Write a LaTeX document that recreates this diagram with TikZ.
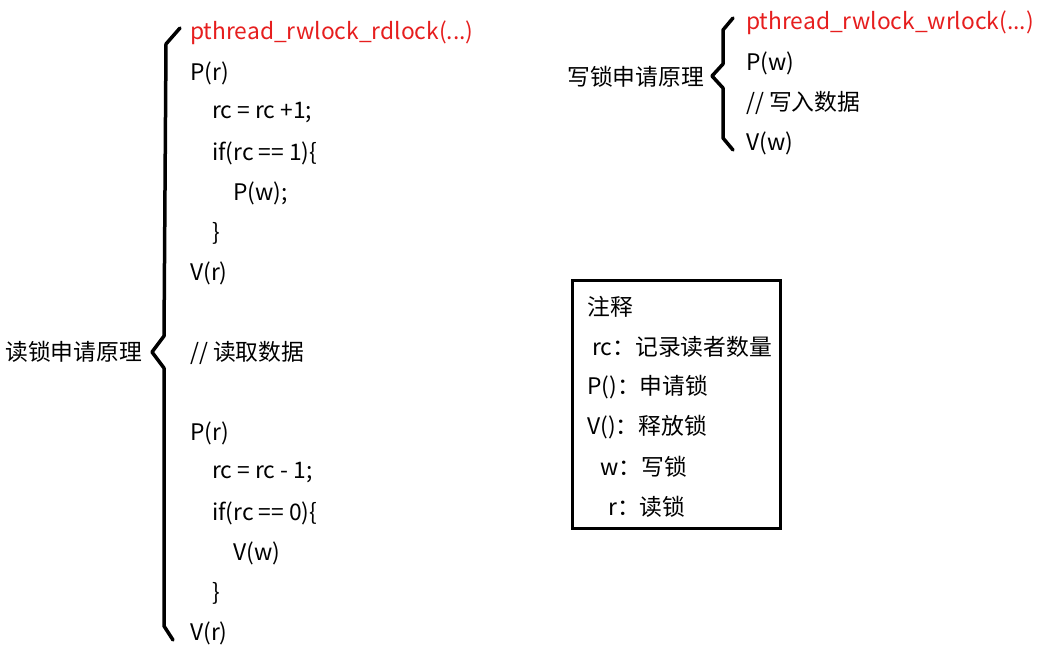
\documentclass[tikz,border=0pt]{standalone}
\usepackage{fontspec}
\setmainfont{Noto Sans CJK SC}
\begin{document}
\begin{tikzpicture}[x=1pt,y=-1pt,
  t/.style={anchor=west,inner sep=0pt,font=\fontsize{22.8}{26}\selectfont},
  red/.style={text={rgb,255:red,230;green,30;blue,30}},
  br/.style={line width=3.5pt,line join=round,line cap=round}]
\useasboundingbox (0,0) rectangle (1047,651);
% left brace
\draw[br] (180,28) -- (166,44) -- (164,336) -- (152,352) -- (164,368) -- (164,626) -- (173,640);
% right brace
\draw[br] (733,18) -- (723,30) -- (723,64) -- (712,76) -- (723,88) -- (723,138) -- (733,150);
\node[t] (lab1) at (5,352) {读锁申请原理};
\node[t] (lab2) at (567,77) {写锁申请原理};
\node[t,red] (l1) at (190,33) {pthread\_rwlock\_rdlock(...)};
\node[t] (l2) at (190,73) {P(r)};
\node[t] (l3) at (212,113) {rc = rc +1;};
\node[t] (l4) at (212,153) {if(rc == 1)\{};
\node[t] (l5) at (233,193) {P(w);};
\node[t] (l6) at (212,233) {\}};
\node[t] (l7) at (190,273) {V(r)};
\node[t] (l8) at (190,353) {// 读取数据};
\node[t] (l9) at (190,433) {P(r)};
\node[t] (l10) at (212,473) {rc = rc - 1;};
\node[t] (l11) at (212,513) {if(rc == 0)\{};
\node[t] (l12) at (233,553) {V(w)};
\node[t] (l13) at (212,593) {\}};
\node[t] (l14) at (190,633) {V(r)};
\node[t,red] (w1) at (746,23) {pthread\_rwlock\_wrlock(...)};
\node[t] (w2) at (746,63) {P(w)};
\node[t] (w3) at (746,103) {// 写入数据};
\node[t] (w4) at (746,143) {V(w)};
\draw[line width=3pt] (572,280) rectangle (780,528);
\node[t] (n1) at (587,307) {注释};
\node[t] (n2) at (592,347) {rc：记录读者数量};
\node[t] (n3) at (587,387) {P()：申请锁};
\node[t] (n4) at (587,427) {V()：释放锁};
\node[t] (n5) at (600,467) {w：写锁};
\node[t] (n6) at (608,507) {r：读锁};
\end{tikzpicture}
\end{document}
